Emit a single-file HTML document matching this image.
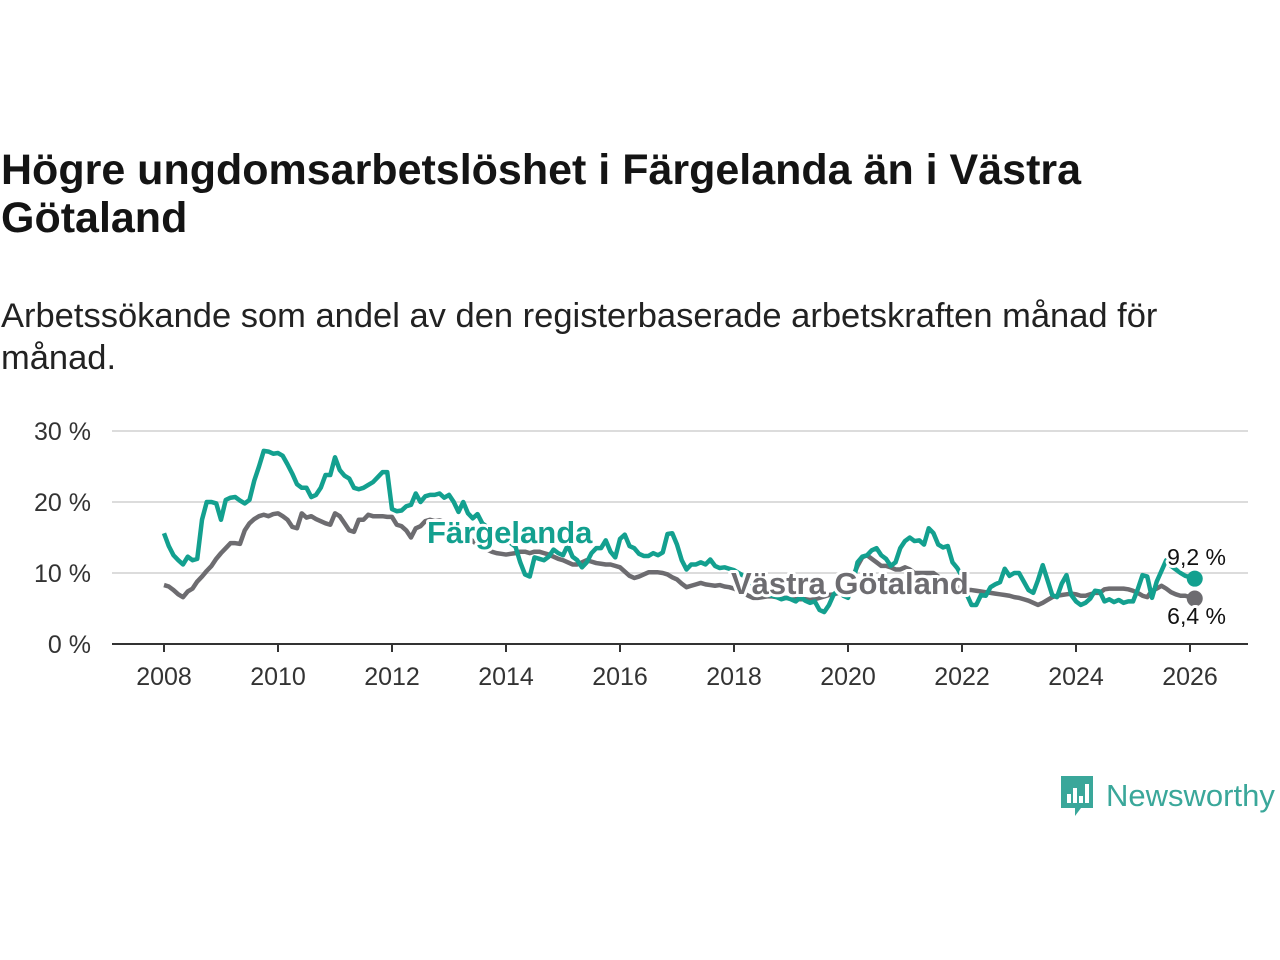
<!DOCTYPE html>
<html><head><meta charset="utf-8"><style>
body{margin:0;background:#fff;width:1280px;height:960px;overflow:hidden;font-family:"Liberation Sans",sans-serif}
#title{position:absolute;left:1px;top:146px;font-size:43px;font-weight:bold;color:#141414;line-height:48px;margin:0;white-space:nowrap}
#sub{position:absolute;left:1px;top:295px;font-size:34.5px;color:#222;line-height:42px;margin:0;white-space:nowrap}
svg{position:absolute;left:0;top:0}
</style></head><body>
<h1 id="title">Högre ungdomsarbetslöshet i Färgelanda än i Västra<br>Götaland</h1>
<p id="sub">Arbetssökande som andel av den registerbaserade arbetskraften månad för<br>månad.</p>
<svg id="chart" width="1280" height="960"></svg>
<script>
const yTicks=[0,10,20,30];
const yTickLabels=["0 %","10 %","20 %","30 %"];
const xTicks=[2008,2010,2012,2014,2016,2018,2020,2022,2024,2026];
const startYear=2008;
const fargelanda=[15.6,13.8,12.5,11.8,11.2,12.3,11.8,12,17.5,20,20,19.8,
17.5,20.3,20.6,20.7,20.2,19.8,20.3,23,25,27.2,27.1,26.8,
26.9,26.5,25.3,24,22.5,22,22,20.7,21,22,23.8,23.8,
26.3,24.5,23.7,23.3,22,21.8,22,22.4,22.8,23.5,24.2,24.2,
19,18.7,18.8,19.4,19.6,21.2,20,20.8,21,21,21.2,20.6,
21,20,18.6,20,18.4,17.7,18.3,17,16.5,16,15.6,15.2,
14.8,14.2,13.7,11.5,9.8,9.5,12.2,12,11.8,12.3,13.3,12.8,
12.5,13.9,12.3,11.8,10.8,11.5,12.8,13.5,13.5,14.6,13,12.2,
14.8,15.4,13.8,13.5,12.7,12.4,12.4,12.8,12.5,12.9,15.5,15.6,
14,11.8,10.5,11.2,11.2,11.5,11.2,11.9,11,10.7,10.8,10.6,
10.4,10,9.6,9,8.3,7.8,7.3,7,6.8,6.6,6.3,6.5,
6.3,6.0,6.6,6.1,5.8,6.0,4.8,4.5,5.5,7.0,7.6,6.8,
6.5,8.5,11.5,12.3,12.5,13.2,13.5,12.5,12,11,11.5,13.5,
14.5,15,14.5,14.6,14,16.3,15.6,14,13.6,13.8,11.5,10.7,
9.5,7,5.5,5.5,6.9,6.8,8,8.4,8.7,10.6,9.6,10,
10,8.8,7.6,7.2,9,11.1,9,6.9,6.6,8.5,9.7,6.9,
6,5.5,5.8,6.4,7.5,7.4,6,6.3,5.9,6.2,5.8,6.0,
6.0,7.7,9.7,9.5,6.5,8.8,10.3,11.8,11,10.5,10,9.6,
9.4,9.2];
const vastra=[8.3,8.1,7.6,7.0,6.6,7.4,7.8,8.8,9.5,10.3,11,12,
12.8,13.5,14.2,14.2,14.1,16,17,17.6,18,18.2,18,18.3,
18.4,18,17.5,16.5,16.3,18.4,17.8,18,17.6,17.3,17,16.8,
18.4,18,17,16,15.8,17.5,17.5,18.2,18,18,18,17.9,
17.9,16.8,16.6,16,15,16.3,16.6,17.3,17.5,17.3,17.4,17.2,
16.5,16,16,15.5,15,14.5,14,13.5,13.3,13,12.8,12.7,
12.6,12.7,12.8,13,13,12.8,13,13,12.8,12.6,12.3,12,
11.8,11.5,11.2,11.2,11.5,11.8,11.6,11.4,11.3,11.2,11.2,11,
10.8,10.2,9.6,9.3,9.5,9.8,10.1,10.1,10.1,10,9.8,9.4,
9.1,8.5,8,8.2,8.4,8.6,8.4,8.3,8.2,8.3,8.1,8.0,
7.8,7.5,7.2,6.8,6.5,6.5,6.6,6.7,6.7,6.6,6.5,6.5,
6.4,6.3,6.3,6.3,6.2,6.3,6.5,6.7,6.9,7.0,7.2,7.5,
8,9.5,11,12.2,12.5,12,11.5,11,11,10.8,10.5,10.5,
10.8,10.5,10,10,10,10,10,9.5,9.2,8.8,8.5,8,
7.8,7.6,7.6,7.5,7.4,7.3,7.2,7.1,7.0,6.9,6.8,6.6,
6.5,6.3,6.1,5.8,5.5,5.8,6.2,6.6,6.8,6.9,7.0,7.1,
7.0,6.8,6.8,7.0,7.2,7.2,7.7,7.8,7.8,7.8,7.8,7.7,
7.5,7.2,6.8,6.6,7.5,7.8,8.2,7.8,7.3,7.0,6.8,6.8,
6.6,6.4];
const NS="http://www.w3.org/2000/svg";
const svg=document.getElementById('chart');
const x=t=>164+(t-2008)*57;
const y=v=>644-v*7.1;
const xm=i=>x(startYear+i/12);
function mk(tag,attrs,txt){const e=document.createElementNS(NS,tag);for(const k in attrs)e.setAttribute(k,attrs[k]);if(txt!==undefined)e.textContent=txt;svg.appendChild(e);return e;}
yTicks.forEach((v,i)=>{
 if(v>0){const g=mk('line',{x1:112,x2:1248,y1:y(v),y2:y(v),stroke:'#dcdcdc','stroke-width':2});
 
 }
 const t=mk('text',{x:91,y:y(v)+9,'text-anchor':'end','font-size':25,fill:'#333','font-family':'Liberation Sans, sans-serif'},yTickLabels[i]);
 
 
});
const ax=mk('line',{x1:112,x2:1248,y1:644,y2:644,stroke:'#333','stroke-width':2});


xTicks.forEach(t=>{
 const l=mk('line',{x1:x(t),x2:x(t),y1:644,y2:652,stroke:'#333','stroke-width':2});
 
 
 const tx=mk('text',{x:x(t),y:685,'text-anchor':'middle','font-size':25,fill:'#333','font-family':'Liberation Sans, sans-serif'},String(t));
 
 
});
function line(arr,color,name){
 const d=arr.map((v,i)=>(i?'L':'M')+xm(i).toFixed(2)+' '+y(v).toFixed(2)).join(' ');
 const p=mk('path',{d:d,fill:'none',stroke:color,'stroke-width':4.5,'stroke-linejoin':'round'});
 
 
 const n=arr.length-1;
 const c=mk('circle',{cx:xm(n),cy:y(arr[n]),r:8,fill:color});
 
 
}
line(vastra,'#6d6c70','vastra-gotaland-line');
line(fargelanda,'#13a08f','fargelanda-line');
function lab(txt,xx,yy,color,name,bold,size,anchor){
 const t=mk('text',{x:xx,y:yy,'font-size':size,'font-weight':bold?'bold':'normal',fill:color,stroke:'#fff','stroke-width':6,'paint-order':'stroke','stroke-linejoin':'round','text-anchor':anchor||'start','font-family':'Liberation Sans, sans-serif'},txt);
 
 
}
lab('Färgelanda',427,543,'#13a08f','fargelanda-label',true,31);
lab('Västra Götaland',731,594,'#6d6c70','vastra-gotaland-label',true,31);
const nf=fargelanda.length-1,nv=vastra.length-1;
lab(String(fargelanda[nf]).replace('.',',')+' %',1226,565,'#111','fargelanda-end-value',false,23,'end');
lab(String(vastra[nv]).replace('.',',')+' %',1226,624,'#111','vastra-end-value',false,23,'end');
</script>
<div style="position:absolute;left:1059px;top:774px;height:44px;display:flex;align-items:center">
 <svg width="36" height="44" style="position:static" viewBox="0 0 36 44"><path d="M2 2h32v32H22l-6 8v-8H2z" fill="#3aa79a"/><rect x="8" y="20" width="4" height="9" fill="#fff"/><rect x="14" y="14" width="4" height="15" fill="#fff"/><rect x="20" y="22" width="4" height="7" fill="#fff"/><rect x="26" y="10" width="4" height="19" fill="#fff"/></svg>
 <span style="font-size:31px;color:#3aa79a;margin-left:11px;font-family:'Liberation Sans',sans-serif">Newsworthy</span>
</div>
</body></html>
